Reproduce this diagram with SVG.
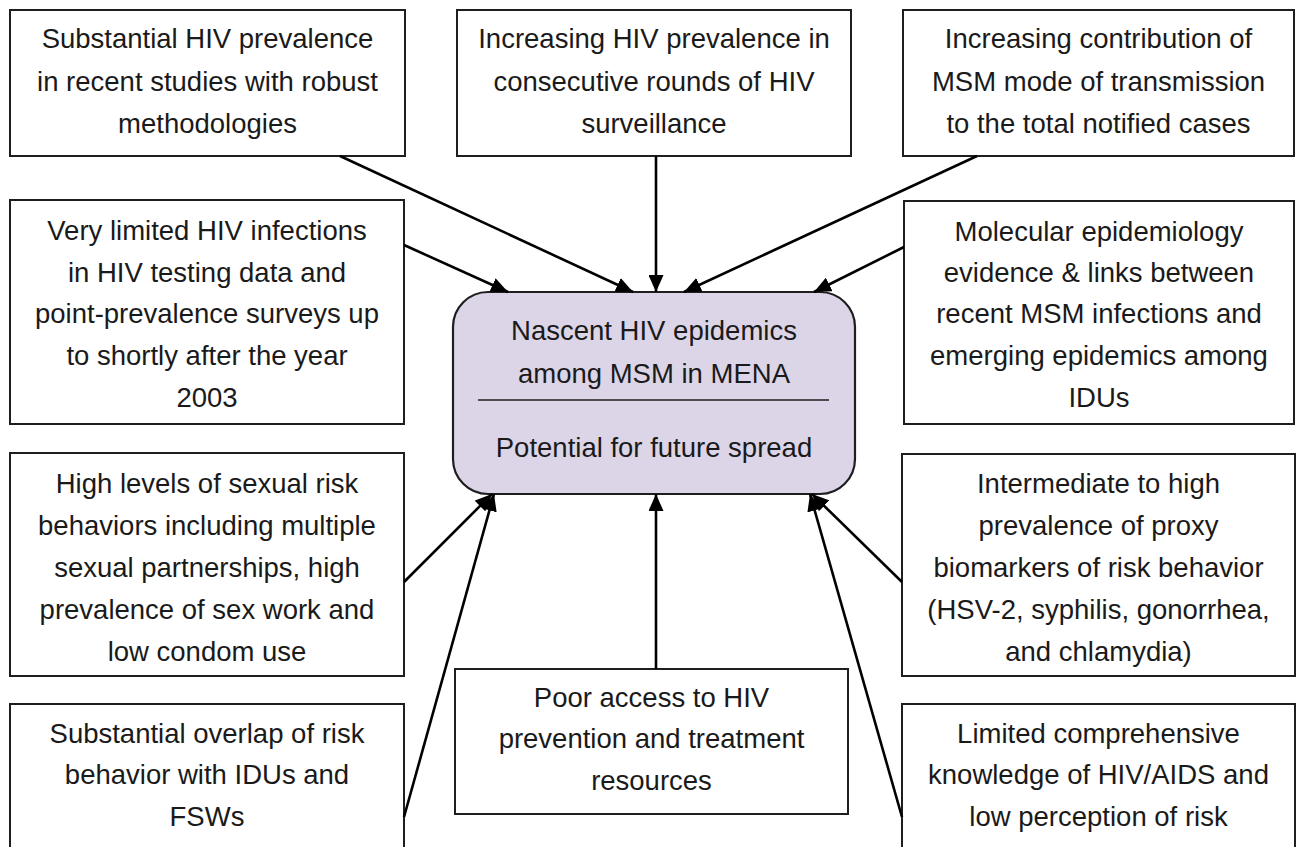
<svg xmlns="http://www.w3.org/2000/svg" width="1296" height="847" viewBox="0 0 1296 847">
<style>
.box{fill:#ffffff;stroke:#1e1e1e;stroke-width:2}
.center{fill:#dcd5e8;stroke:#1e1e1e;stroke-width:2.2}
text{font-family:"Liberation Sans",Arial,sans-serif;font-size:27.5px;fill:#1a1a1a;text-anchor:middle}
.conn line{stroke:#000;stroke-width:2.6;marker-end:url(#ah)}
</style>
<defs>
<marker id="ah" markerUnits="userSpaceOnUse" markerWidth="17" markerHeight="15" refX="17" refY="7.5" orient="auto">
<path d="M0,0 L17,7.5 L0,15 z" fill="#000"/>
</marker>
</defs>
<rect width="1296" height="847" fill="#ffffff"/>

<g id="n-tl">
<rect class="box" x="10" y="10" width="395" height="146"/>
<text x="207.5" y="48">Substantial HIV prevalence</text>
<text x="207.5" y="91">in recent studies with robust</text>
<text x="207.5" y="133">methodologies</text>
</g>
<g id="n-tm">
<rect class="box" x="457" y="10" width="394" height="146"/>
<text x="654" y="48">Increasing HIV prevalence in</text>
<text x="654" y="91">consecutive rounds of HIV</text>
<text x="654" y="133">surveillance</text>
</g>
<g id="n-tr">
<rect class="box" x="903" y="10" width="391" height="146"/>
<text x="1098.5" y="48">Increasing contribution of</text>
<text x="1098.5" y="91">MSM mode of transmission</text>
<text x="1098.5" y="133">to the total notified cases</text>
</g>
<g id="n-ml">
<rect class="box" x="10" y="200" width="394" height="224"/>
<text x="207" y="240">Very limited HIV infections</text>
<text x="207" y="282">in HIV testing data and</text>
<text x="207" y="323">point-prevalence surveys up</text>
<text x="207" y="365">to shortly after the year</text>
<text x="207" y="407">2003</text>
</g>
<g id="n-mr">
<rect class="box" x="904" y="201" width="390" height="223"/>
<text x="1099" y="241">Molecular epidemiology</text>
<text x="1099" y="282">evidence &amp; links between</text>
<text x="1099" y="323">recent MSM infections and</text>
<text x="1099" y="365">emerging epidemics among</text>
<text x="1099" y="407">IDUs</text>
</g>
<g id="n-center">
<rect class="center" x="453" y="292" width="402" height="202" rx="35" ry="35"/>
<text x="654" y="340">Nascent HIV epidemics</text>
<text x="654" y="383">among MSM in MENA</text>
<line x1="478" y1="400" x2="829" y2="400" stroke="#1e1e1e" stroke-width="1.6"/>
<text x="654" y="457">Potential for future spread</text>
</g>
<g id="n-ll1">
<rect class="box" x="10" y="453" width="394" height="223"/>
<text x="207" y="493">High levels of sexual risk</text>
<text x="207" y="535">behaviors including multiple</text>
<text x="207" y="577">sexual partnerships, high</text>
<text x="207" y="619">prevalence of sex work and</text>
<text x="207" y="661">low condom use</text>
</g>
<g id="n-rr1">
<rect class="box" x="902" y="454" width="393" height="222"/>
<text x="1098.5" y="493">Intermediate to high</text>
<text x="1098.5" y="535">prevalence of proxy</text>
<text x="1098.5" y="577">biomarkers of risk behavior</text>
<text x="1098.5" y="619">(HSV-2, syphilis, gonorrhea,</text>
<text x="1098.5" y="661">and chlamydia)</text>
</g>
<g id="n-bm">
<rect class="box" x="455" y="669" width="393" height="145"/>
<text x="651.5" y="707">Poor access to HIV</text>
<text x="651.5" y="748">prevention and treatment</text>
<text x="651.5" y="790">resources</text>
</g>
<g id="n-ll2">
<rect class="box" x="10" y="704" width="394" height="160"/>
<text x="207" y="743">Substantial overlap of risk</text>
<text x="207" y="784">behavior with IDUs and</text>
<text x="207" y="826">FSWs</text>
</g>
<g id="n-rr2">
<rect class="box" x="902" y="704" width="393" height="160"/>
<text x="1098.5" y="743">Limited comprehensive</text>
<text x="1098.5" y="784">knowledge of HIV/AIDS and</text>
<text x="1098.5" y="826">low perception of risk</text>
</g>

<g id="connectors" class="conn">
<line x1="340" y1="156" x2="633" y2="292"/>
<line x1="656" y1="156" x2="656" y2="292"/>
<line x1="977" y1="156" x2="684" y2="292"/>
<line x1="404" y1="245" x2="508" y2="292"/>
<line x1="904" y1="247" x2="814" y2="292"/>
<line x1="404" y1="582" x2="492" y2="494"/>
<line x1="404" y1="817" x2="494" y2="494"/>
<line x1="656" y1="669" x2="656" y2="494"/>
<line x1="902" y1="582" x2="812" y2="494"/>
<line x1="902" y1="817" x2="810" y2="494"/>
</g>
</svg>
